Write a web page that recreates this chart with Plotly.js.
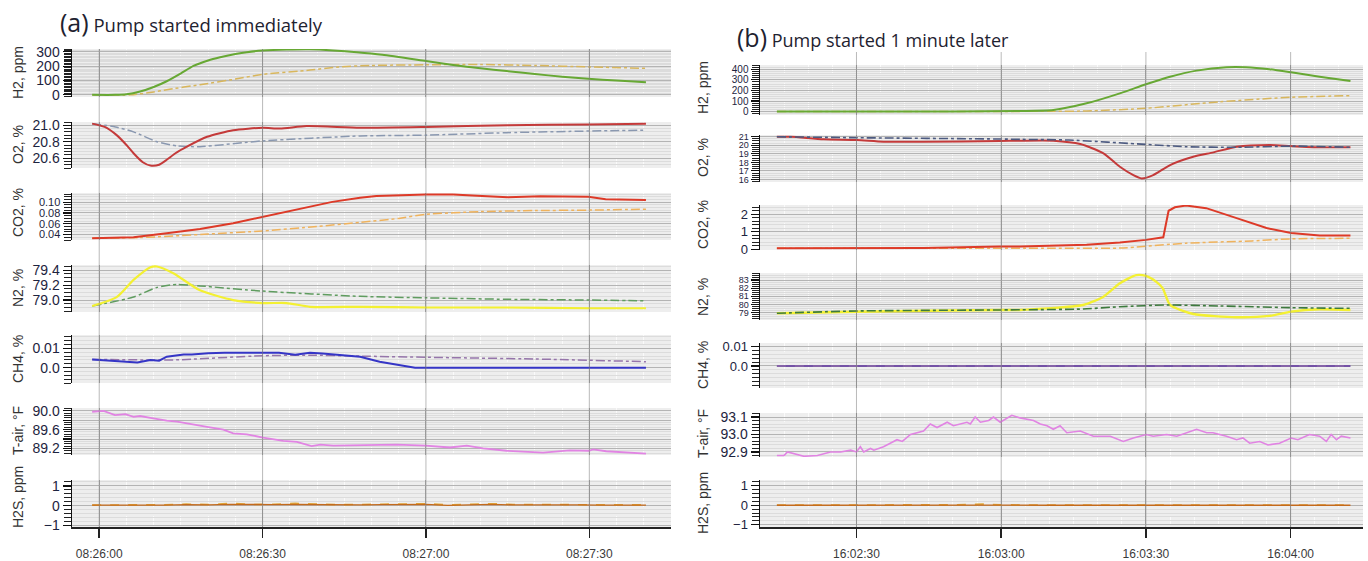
<!DOCTYPE html>
<html><head><meta charset="utf-8">
<script src="https://cdn.plot.ly/plotly-3.0.1.min.js"></script>
<style>html,body{margin:0;padding:0;background:#fff}#chart{width:1368px;height:561px}</style>
</head><body><div id="chart"></div>
<script>
// ---------- DATA (seconds relative to panel base time) ----------
const baseA = [8, 26, 0];   // 08:26:00
const baseB = [16, 2, 30];  // 16:02:30
const tickSecA = [0, 30, 60, 90];
const tickSecB = [0, 30, 60, 90];
const labelsY = ['H2, ppm', 'O2, %', 'CO2, %', 'N2, %', 'CH4, %', 'T-air, °F', 'H2S, ppm'];

// (a) Pump started immediately
const aH2_t   = [-1.3, 3, 5, 7.5, 10, 12.4, 15, 17.3, 20, 22.2, 25, 27.1, 30, 34.4, 38.7, 43, 47.3, 52, 60, 65, 70, 74.8, 80, 85, 89.8, 95, 100.4];
const aH2_obs = [0, 0, 4, 23, 55, 95, 150, 202, 240, 262, 285, 298, 309, 316, 318, 310, 298, 280, 236, 208, 185, 166, 145, 127, 112, 100, 88];
const aH2_mt  = [-1.3, 5.7, 10, 12.4, 18.5, 25, 30, 38.7, 44, 50, 60, 70, 80, 90, 100.4];
const aH2_mod = [0, 0, 20, 36, 71, 110, 143, 173, 195, 205, 210, 212, 205, 195, 185];

const aO2_t   = [-1.3, 1, 3.2, 5, 6.3, 8, 9.4, 11, 12.4, 14, 16.1, 19.8, 24.6, 30, 33.2, 38.1, 47.9, 60, 75, 89.8, 100.4];
const aO2_obs = [21.02, 20.98, 20.88, 20.76, 20.66, 20.55, 20.51, 20.52, 20.58, 20.66, 20.74, 20.86, 20.94, 20.97, 20.96, 20.99, 20.97, 20.98, 21.0, 21.01, 21.02];
const aO2_mt  = [-1.3, 3, 6.3, 10.6, 14.3, 18.5, 30, 47.9, 60, 74.8, 89.8, 100.4];
const aO2_mod = [21.02, 20.98, 20.92, 20.80, 20.75, 20.74, 20.81, 20.87, 20.88, 20.91, 20.93, 20.94];

const aCO2_t   = [-1.3, 6.3, 12.4, 18.5, 24.6, 30, 36.7, 42.8, 47.9, 50.9, 60, 65, 69.4, 75, 81, 87, 89.8, 93, 100.4];
const aCO2_obs = [0.0334, 0.035, 0.0426, 0.0505, 0.061, 0.073, 0.0884, 0.1006, 0.108, 0.1116, 0.114, 0.114, 0.112, 0.109, 0.111, 0.110, 0.110, 0.1055, 0.104];
const aCO2_mt  = [-1.3, 7.5, 20, 30, 40, 47.9, 55, 60, 70, 80, 89.8, 100.4];
const aCO2_mod = [0.0334, 0.0345, 0.041, 0.0468, 0.055, 0.0627, 0.070, 0.0774, 0.0825, 0.0845, 0.0853, 0.087];

const aN2_t   = [-1.3, 3.2, 6.3, 9.4, 10.6, 13.6, 18.5, 24.6, 30, 34.4, 38.7, 47.9, 60, 75, 90, 100.4];
const aN2_obs = [78.92, 79.04, 79.27, 79.44, 79.45, 79.36, 79.13, 79.0, 78.96, 78.96, 78.91, 78.91, 78.90, 78.90, 78.89, 78.89];
const aN2_mt  = [-1.3, 6.3, 10.6, 14.3, 18.5, 30, 47.9, 60, 75, 90, 100.4];
const aN2_mod = [78.92, 79.04, 79.17, 79.21, 79.19, 79.12, 79.05, 79.03, 79.01, 79.0, 78.99];

const aCH4_t   = [-1.3, 2, 5, 7, 9.4, 11, 12.4, 14, 15.5, 17, 20, 23, 27, 30, 33, 36, 38.7, 41, 44.2, 47.9, 51.5, 55, 58, 60, 70, 80, 90, 100.4];
const aCH4_obs = [0.0043, 0.0037, 0.0031, 0.0027, 0.0040, 0.0036, 0.0057, 0.0062, 0.0069, 0.0068, 0.0075, 0.0077, 0.0076, 0.0078, 0.0077, 0.0067, 0.0077, 0.0074, 0.0065, 0.0057, 0.0031, 0.0014, 0.0, 0.0, 0.0, 0.0, 0.0, 0.0];
const aCH4_mt  = [-1.3, 9.4, 13.6, 30, 38.7, 47.9, 60, 80, 100.4];
const aCH4_mod = [0.0043, 0.004, 0.004, 0.0062, 0.0065, 0.006, 0.0054, 0.0045, 0.0031];

const aT_t   = [-1.3, 0.8, 2.9, 4.8, 6.3, 7.5, 9.4, 12.4, 14.3, 16.1, 19.8, 22.8, 24.6, 27.1, 30.1, 33.8, 36.3, 39.0, 40.6, 43.0, 47.9, 54.6, 60, 64.4, 67.5, 70.5, 74.8, 81.5, 86.4, 89.9, 90.7, 93.1, 100.4];
const aT_obs = [89.98, 90.0, 89.91, 89.93, 89.87, 89.89, 89.85, 89.79, 89.77, 89.73, 89.66, 89.60, 89.52, 89.50, 89.43, 89.36, 89.34, 89.25, 89.28, 89.26, 89.27, 89.28, 89.26, 89.22, 89.26, 89.2, 89.15, 89.11, 89.16, 89.15, 89.18, 89.14, 89.09];

const aH2S_t   = [-1.3, 3, 8, 12, 16, 20, 24, 28, 32, 36, 40, 44, 48, 52, 56, 60, 64, 68, 72, 76, 80, 84, 88, 92, 96, 100.4];
const aH2S_obs = [0.03, 0.02, 0.01, 0.03, 0.05, 0.04, 0.07, 0.05, 0.05, 0.06, 0.05, 0.03, 0.04, 0.05, 0.06, 0.07, 0.02, 0.05, 0.07, 0.04, 0.05, 0.05, 0.04, 0.03, 0.04, 0.03];
const aH2S_mod = [0.03, 0.03, 0.02, 0.05, 0.08, 0.06, 0.12, 0.06, 0.07, 0.12, 0.08, 0.05, 0.06, 0.07, 0.09, 0.10, 0.04, 0.07, 0.10, 0.06, 0.07, 0.06, 0.05, 0.04, 0.05, 0.04];

// (b) Pump started 1 minute later
const bH2_t   = [-16.5, 0, 20, 33.9, 40.8, 47.7, 54.6, 60, 65, 70.5, 76.7, 80.8, 85.6, 90.1, 96, 102.4];
const bH2_obs = [2, 2, 3, 7, 16, 79, 173, 258, 330, 387, 419, 419, 400, 371, 330, 290];
const bH2_mt  = [-16.5, 20, 40.8, 47.7, 60, 75.3, 90.1, 102.4];
const bH2_mod = [2, 2, 4, 7, 32, 94, 136, 151];

const bO2_t   = [-16.5, -13.6, -6.8, 0.1, 5.6, 13.9, 29.7, 33.9, 40.8, 46.4, 51.2, 54.6, 57.4, 59.1, 61.5, 65, 69.8, 74, 78.8, 85.6, 90.1, 96, 102.4];
const bO2_obs = [21.0, 21.0, 20.7, 20.61, 20.41, 20.41, 20.5, 20.53, 20.53, 20.14, 19.05, 17.48, 16.5, 16.12, 16.5, 17.68, 18.65, 19.17, 19.83, 20.03, 19.9, 19.76, 19.76];
const bO2_mt  = [-16.5, 0.1, 29.7, 33.9, 44, 60, 68.3, 78.8, 90.1, 102.4];
const bO2_mod = [21.0, 20.88, 20.73, 20.69, 20.61, 20.1, 19.83, 19.76, 19.9, 19.76];

const bCO2_t   = [-16.5, 0, 13.9, 29.7, 33.9, 47.7, 54.6, 60, 62, 63.6, 64.7, 66, 68.3, 72.5, 78.8, 85, 90.1, 96, 102.4];
const bCO2_obs = [0.05, 0.05, 0.06, 0.15, 0.15, 0.25, 0.38, 0.53, 0.62, 0.68, 2.2, 2.4, 2.5, 2.35, 1.78, 1.21, 0.92, 0.78, 0.78];
const bCO2_mt  = [-16.5, 40, 54.6, 68.3, 82, 90.1, 102.4];
const bCO2_mod = [0.05, 0.05, 0.06, 0.34, 0.47, 0.59, 0.62];

const bN2_t   = [-16.5, 0.1, 29.7, 33.9, 47, 51.2, 54.6, 58, 60, 62.1, 63.5, 65, 69.8, 78.8, 85.6, 90.1, 96, 102.4];
const bN2_obs = [78.93, 79.12, 79.33, 79.33, 79.94, 80.96, 82.6, 83.6, 83.5, 82.8, 81.98, 79.94, 78.84, 78.44, 78.6, 79.12, 79.41, 79.33];
const bN2_mt  = [-16.5, 0.1, 29.7, 47, 54.6, 64.3, 75.3, 90.1, 102.4];
const bN2_mod = [78.93, 79.21, 79.33, 79.45, 79.73, 79.94, 79.82, 79.61, 79.53];

const bCH4_t   = [-16.5, 102.4];
const bCH4_obs = [0, 0];
const bCH4_mod = [0, 0];

const bT_t = [-16.5, -15.0, -14.3, -10.9, -8.1, -5.4, -3.3, -1.2, 0, 0.8, 1.5, 2.9, 3.6, 5.6, 7.0, 8.4, 9.5, 11.2, 13.9, 15.3, 16.7, 18.8, 20.1, 22.9, 23.6, 24.6, 25.7, 27.4, 28.4, 29.8, 32.2, 33.9, 36.7, 38.1, 39.5, 40.8, 42.2, 43.6, 46.4, 49.1, 52.6, 55.3, 57.4, 60.1, 61.5, 64.3, 66.4, 68.4, 70.5, 72.6, 73.9, 76.7, 78.8, 80.1, 81.5, 83.6, 85.3, 87.7, 90.1, 91.5, 93.9, 96.0, 97.4, 98.4, 99.5, 100.5, 102.4];
const bT_obs = [92.88, 92.88, 92.90, 92.875, 92.88, 92.90, 92.90, 92.91, 92.90, 92.93, 92.90, 92.92, 92.91, 92.93, 92.95, 92.97, 92.96, 93.0, 93.02, 93.06, 93.04, 93.07, 93.05, 93.07, 93.06, 93.10, 93.07, 93.08, 93.10, 93.07, 93.11, 93.095, 93.08, 93.06, 93.05, 93.03, 93.05, 93.01, 93.02, 92.99, 92.99, 92.96, 92.98, 93.0, 92.99, 93.0, 92.99, 93.01, 93.03, 93.01, 93.01, 92.99, 92.97, 92.98, 92.95, 92.96, 92.94, 92.95, 92.98, 92.97, 93.0, 92.99, 92.96, 93.0, 92.97, 92.99, 92.98];

const bH2S_t   = [-16.5, 0, 20, 26, 30, 40, 60, 80, 102.4];
const bH2S_obs = [0.0, 0.01, 0.0, 0.04, 0.01, 0.0, 0.01, 0.0, 0.0];
const bH2S_mod = [0.01, 0.0, 0.02, 0.06, 0.02, 0.01, 0.02, 0.01, 0.01];

// ---------- helpers ----------
const W = 1368, H = 561;
function toDates(base, secs) {
  const b = Date.UTC(2021, 5, 1, base[0], base[1], base[2]);
  return secs.map(s => new Date(b + Math.round(s * 1000)).toISOString().replace('T', ' ').replace('Z', ''));
}
const dA = s => toDates(baseA, s), dB = s => toDates(baseB, s);

// styles
const C = {
  h2: '#67a834', h2m: '#d8b65c',
  o2: '#c43a3a', o2mA: '#8a98b0', o2mB: '#4c5a80',
  co2: '#dd3a28', co2m: '#efb25c',
  n2: '#f3f032', n2mA: '#5f9c5f', n2mB: '#3d7a3d',
  ch4: '#3535c6', ch4m: '#9575aa', ch4B: '#7452a6',
  t: '#e184e3',
  h2s: '#c46a1c', h2sm: '#e2aa3c'
};

const traces = [];
function add(xs, ys, xa, ya, color, dash, width, shape) {
  traces.push({x: xs, y: ys, xaxis: xa, yaxis: ya, type: 'scatter', mode: 'lines',
    line: {color: color, dash: dash, width: width, shape: shape || 'spline', smoothing: 0.6},
    hoverinfo: 'skip'});
}
// panel a
add(dA(aH2_mt), aH2_mod, 'x', 'y', C.h2m, 'dashdot', 1.5);
add(dA(aH2_t), aH2_obs, 'x', 'y', C.h2, 'solid', 2);
add(dA(aO2_mt), aO2_mod, 'x', 'y2', C.o2mA, 'dashdot', 1.5);
add(dA(aO2_t), aO2_obs, 'x', 'y2', C.o2, 'solid', 2);
add(dA(aCO2_mt), aCO2_mod, 'x', 'y3', C.co2m, 'dashdot', 1.5);
add(dA(aCO2_t), aCO2_obs, 'x', 'y3', C.co2, 'solid', 2, 'linear');
add(dA(aN2_mt), aN2_mod, 'x', 'y4', C.n2mA, 'dashdot', 1.5);
add(dA(aN2_t), aN2_obs, 'x', 'y4', C.n2, 'solid', 2.2);
add(dA(aCH4_mt), aCH4_mod, 'x', 'y5', C.ch4m, 'dashdot', 1.5);
add(dA(aCH4_t), aCH4_obs, 'x', 'y5', C.ch4, 'solid', 2, 'linear');
add(dA(aT_t), aT_obs, 'x', 'y6', C.t, 'solid', 1.8, 'linear');
add(dA(aH2S_t), aH2S_mod, 'x', 'y7', C.h2sm, 'dash', 1.6, 'linear');
add(dA(aH2S_t), aH2S_obs, 'x', 'y7', C.h2s, 'solid', 1.3, 'linear');
// panel b
add(dB(bH2_mt), bH2_mod, 'x2', 'y8', C.h2m, 'dashdot', 1.5);
add(dB(bH2_t), bH2_obs, 'x2', 'y8', C.h2, 'solid', 2);
add(dB(bO2_t), bO2_obs, 'x2', 'y9', C.o2, 'solid', 2);
add(dB(bO2_mt), bO2_mod, 'x2', 'y9', C.o2mB, 'dashdot', 1.6);
add(dB(bCO2_mt), bCO2_mod, 'x2', 'y10', C.co2m, 'dashdot', 1.5);
add(dB(bCO2_t), bCO2_obs, 'x2', 'y10', C.co2, 'solid', 2, 'linear');
add(dB(bN2_t), bN2_obs, 'x2', 'y11', C.n2, 'solid', 2.4);
add(dB(bN2_mt), bN2_mod, 'x2', 'y11', C.n2mB, 'dashdot', 1.6);
add(dB(bCH4_t), bCH4_obs, 'x2', 'y12', C.ch4B, 'solid', 2, 'linear');
add(dB(bCH4_t), bCH4_mod, 'x2', 'y12', C.ch4m, 'dash', 1.2, 'linear');
add(dB(bT_t), bT_obs, 'x2', 'y13', C.t, 'solid', 1.6, 'linear');
add(dB(bH2S_t), bH2S_mod, 'x2', 'y14', C.h2sm, 'dash', 1.6, 'linear');
add(dB(bH2S_t), bH2S_obs, 'x2', 'y14', C.h2s, 'solid', 1.3, 'linear');

// ---------- layout ----------
const aPix = [[49, 97], [122, 168], [193, 240], [265, 312], [335, 383], [408, 455], [480, 527]];
const bPix = [[65, 115], [135, 182], [205, 250], [273, 320], [343, 388], [413, 457], [480, 527]];
const aAx = [
  {range: [-15, 320], dtick: 100, minor: 10, fs: 14},
  {range: [20.48, 21.04], dtick: 0.2, minor: 0.04, fmt: '.1f', fs: 14},
  {range: [0.030, 0.117], dtick: 0.02, minor: 0.005, fmt: '.2f', fs: 11},
  {range: [78.84, 79.47], dtick: 0.2, minor: 0.05, fmt: '.1f', fs: 14},
  {range: [-0.008, 0.017], vals: [0, 0.01], text: ['0.0', '0.01'], minor: 0.002, fs: 14},
  {range: [89.06, 90.06], vals: [89.2, 89.4, 89.6, 89.8, 90.0], text: ['89.2', '', '89.6', '', '90.0'], minor: 0.05, fs: 14},
  {range: [-1.08, 1.3], dtick: 1, minor: 0.2, fs: 14}
];
const bAx = [
  {range: [-31, 440], dtick: 100, minor: 20, fs: 10},
  {range: [15.7, 21.2], dtick: 1, minor: 0.25, fs: 9},
  {range: [-0.05, 2.53], dtick: 1, minor: 0.2, fs: 13},
  {range: [78.1, 83.86], dtick: 1, minor: 0.25, fs: 9},
  {range: [-0.0114, 0.0119], vals: [0, 0.01], text: ['0.0', '0.01'], minor: 0.002, fs: 13},
  {range: [92.871, 93.123], vals: [92.9, 93.0, 93.1], text: ['92.9', '93.0', '93.1'], minor: 0.02, fs: 14},
  {range: [-1.12, 1.3], dtick: 1, minor: 0.2, fs: 13}
];

const layout = {
  width: W, height: H, margin: {l: 0, r: 0, t: 0, b: 0, pad: 0},
  paper_bgcolor: '#ffffff', plot_bgcolor: '#eeeeee', showlegend: false,
  font: {family: 'Liberation Sans, Arial, sans-serif', color: '#222'},
  annotations: [], shapes: []
};

function yAxis(spec, pix, xa, fs) {
  const ax = {
    domain: [1 - pix[1] / H, 1 - pix[0] / H], anchor: xa, range: spec.range,
    showline: true, linecolor: '#111', linewidth: 1.5, mirror: false,
    ticks: 'outside', ticklen: 8, tickwidth: 1.2, tickcolor: '#111',
    showgrid: true, gridcolor: '#b4b4b4', gridwidth: 1, zeroline: false,
    tickfont: {size: fs, color: '#1d2440', family: 'Liberation Sans, Arial, sans-serif'},
    minor: {dtick: spec.minor, ticks: 'outside', ticklen: 7, tickcolor: '#222', tickwidth: 1,
            showgrid: true, gridcolor: '#dcdcdc', gridwidth: 1},
    fixedrange: true
  };
  if (spec.vals) { ax.tickmode = 'array'; ax.tickvals = spec.vals; ax.ticktext = spec.text; }
  else { ax.tickmode = 'linear'; ax.tick0 = 0; ax.dtick = spec.dtick; }
  if (spec.fmt) ax.tickformat = spec.fmt;
  return ax;
}
for (let i = 0; i < 7; i++) {
  layout[i === 0 ? 'yaxis' : 'yaxis' + (i + 1)] = yAxis(aAx[i], aPix[i], 'x', aAx[i].fs);
  layout['yaxis' + (i + 8)] = yAxis(bAx[i], bPix[i], 'x2', bAx[i].fs);
}

function xAxis(dom, base, r0, r1, anchor) {
  const d = s => toDates(base, [s])[0];
  return {
    domain: [dom[0] / W, dom[1] / W], anchor: anchor, type: 'date',
    range: [d(r0), d(r1)], tick0: d(0), dtick: 30000, tickmode: 'linear', tickformat: '%H:%M:%S',
    showgrid: true, gridcolor: '#a6a6a6', gridwidth: 1, zeroline: false,
    showline: true, linecolor: '#222', linewidth: 1.5,
    ticks: 'outside', ticklen: 9, tickwidth: 1.5, tickcolor: '#222',
    tickfont: {size: 12, color: '#3a3a3a', family: 'Liberation Sans, Arial, sans-serif'},
    ticklabelstandoff: 6,
    minor: {dtick: 5000, showgrid: true, gridcolor: '#fafafa', griddash: 'dash', gridwidth: 1, ticks: ''},
    fixedrange: true
  };
}
layout.xaxis = xAxis([72, 671], baseA, -5, 105, 'y7');
layout.xaxis2 = xAxis([760, 1363], baseB, -20, 105, 'y14');

// full-height vertical time lines (span the gaps between panels)
tickSecA.forEach(s => layout.shapes.push({type: 'line', xref: 'x', yref: 'paper', layer: 'above',
  x0: dA([s])[0], x1: dA([s])[0], y0: 1 - 527 / H, y1: 1 - 49 / H, line: {color: 'rgba(130,130,130,0.55)', width: 1}}));
tickSecB.forEach(s => layout.shapes.push({type: 'line', xref: 'x2', yref: 'paper', layer: 'above',
  x0: dB([s])[0], x1: dB([s])[0], y0: 1 - 527 / H, y1: 1 - 52 / H, line: {color: 'rgba(130,130,130,0.55)', width: 1}}));

// y titles
const aTitleY = [73, 145, 213, 288, 359, 431, 497];
const bTitleY = [87, 157, 224, 297, 365, 433, 503];
for (let i = 0; i < 7; i++) {
  layout.annotations.push({text: labelsY[i], xref: 'paper', yref: 'paper', x: 18 / W, y: 1 - aTitleY[i] / H,
    textangle: -90, showarrow: false, xanchor: 'center', yanchor: 'middle',
    font: {size: 14, color: '#333', family: 'Liberation Sans, Arial, sans-serif'}});
  layout.annotations.push({text: labelsY[i], xref: 'paper', yref: 'paper', x: 703 / W, y: 1 - bTitleY[i] / H,
    textangle: -90, showarrow: false, xanchor: 'center', yanchor: 'middle',
    font: {size: 14, color: '#333', family: 'Liberation Sans, Arial, sans-serif'}});
}
// panel titles
layout.annotations.push({text: '<span style="font-size:25px">(a)</span> Pump started immediately',
  xref: 'paper', yref: 'paper', x: 58 / W, y: 1 - 22 / H, xanchor: 'left', yanchor: 'middle', showarrow: false,
  font: {size: 18.5, color: '#1e2230', family: 'Open Sans, Noto Sans, sans-serif'}});
layout.annotations.push({text: '<span style="font-size:25px">(b)</span> Pump started 1 minute later',
  xref: 'paper', yref: 'paper', x: 735 / W, y: 1 - 37 / H, xanchor: 'left', yanchor: 'middle', showarrow: false,
  font: {size: 18, color: '#1e2230', family: 'Open Sans, Noto Sans, sans-serif'}});

Plotly.newPlot('chart', traces, layout, {staticPlot: true, displayModeBar: false});
</script>
</body></html>
